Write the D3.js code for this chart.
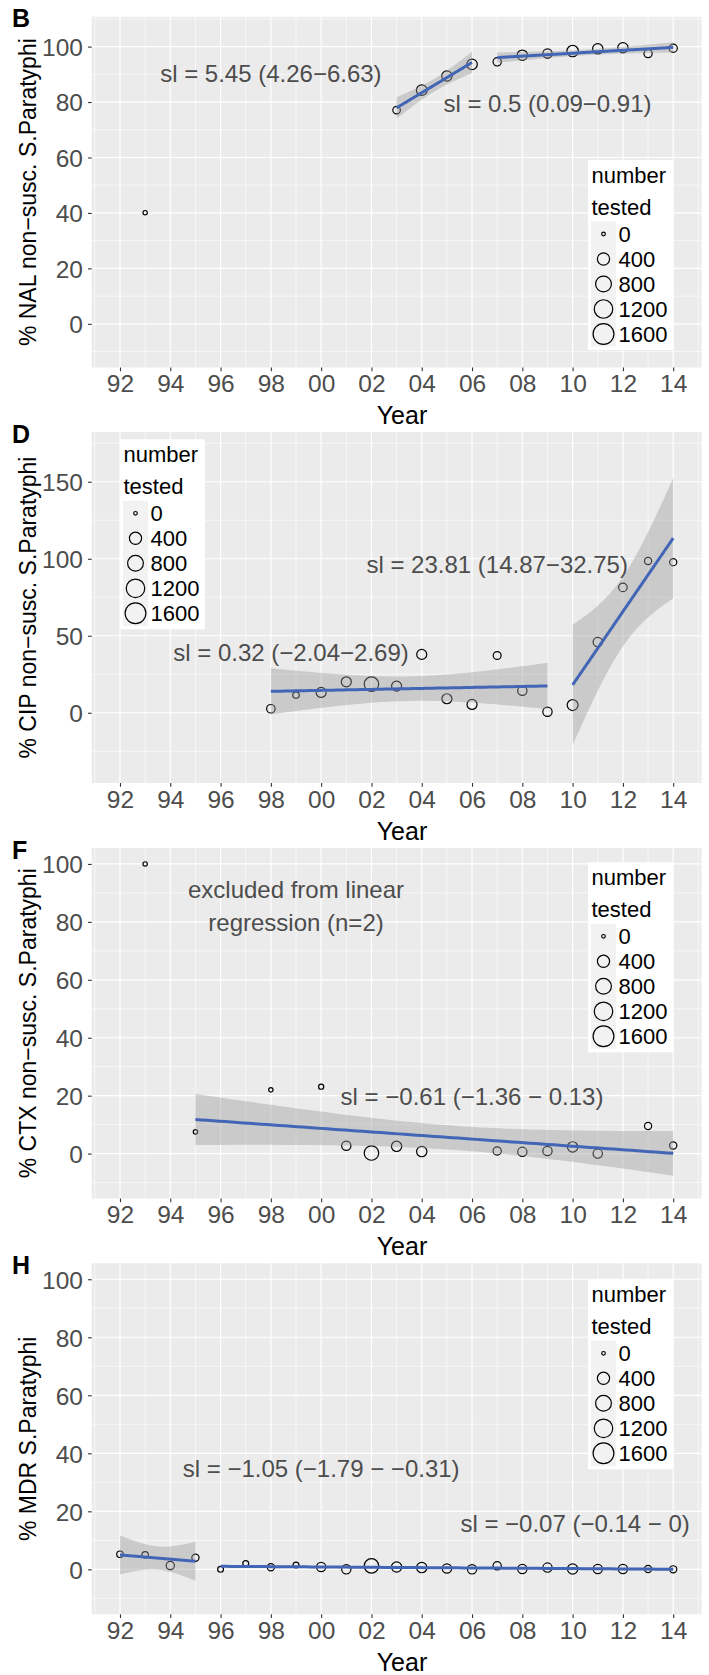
<!DOCTYPE html>
<html><head><meta charset="utf-8">
<script src="https://cdn.jsdelivr.net/npm/d3@7"></script>
<style>
body{margin:0;background:#fff}
svg{display:block}
text{font-family:"Liberation Sans",Arial,Helvetica,sans-serif}
</style>
</head><body>
<svg id="chart" width="709" height="1675"></svg>
<script>
// ---------- data ----------
const xTickYears = [1992,1994,1996,1998,2000,2002,2004,2006,2008,2010,2012,2014];
const xTickLabels = ["92","94","96","98","00","02","04","06","08","10","12","14"];
const pctTicks = [0,20,40,60,80,100];
const cipTicks = [0,50,100,150];
const legendBreaks = [0,400,800,1200,1600];

const nalYears = [1993,2003,2004,2005,2006,2007,2008,2009,2010,2011,2012,2013,2014];
const nalPct   = [40.1,77.1,84.3,89.4,93.6,94.5,96.9,97.5,98.4,99.2,99.6,97.5,99.4];
const nalN     = [3,84,268,245,260,118,245,176,327,245,245,118,118];
const nalSegs  = [[2003,2006],[2007,2014]];

const cipYears = [1998,1999,2000,2001,2002,2003,2004,2005,2006,2007,2008,2009,2010,2011,2012,2013,2014];
const cipPct   = [2.6,11.5,13.2,20.1,18.6,17.3,37.9,9.1,5.4,37.2,14.3,0.7,5.0,45.9,81.4,98.5,97.8];
const cipN     = [130,46,223,223,640,223,223,223,223,100,176,176,290,176,130,71,71];
const cipSegs  = [[1998,2009],[2010,2014]];

const ctxYears = [1993,1995,1998,2000,2001,2002,2003,2004,2007,2008,2009,2010,2011,2013,2014];
const ctxPct   = [100,7.5,22,23.1,2.7,0.2,2.5,0.7,0.9,0.6,0.9,2.3,0,9.5,2.8];
const ctxN     = [3,3,3,13,176,640,245,245,118,176,176,245,176,71,71];
const ctxSegs  = [[1995,2014]];

const mdrYears = [1992,1993,1994,1995,1996,1997,1998,1999,2000,2001,2002,2003,2004,2005,2006,2007,2008,2009,2010,2011,2012,2013,2014];
const mdrPct   = [5.2,5.0,1.3,4.0,0,2.0,0.7,1.5,0.8,0,1.2,0.8,0.6,0.3,0,1.2,0.1,0.6,0.1,0.1,0.1,0.1,0];
const mdrN     = [46,46,118,71,28,28,71,28,176,176,640,245,245,176,176,118,176,176,245,176,176,71,71];
const mdrSegs  = [[1992,1995],[1996,2014]];

const nalNotes = [{x:1998,y:90.5,t:"sl = 5.45 (4.26\u22126.63)"},{x:2009,y:79.7,t:"sl = 0.5 (0.09\u22120.91)"}];
const cipNotes = [{x:1998.8,y:39.5,t:"sl = 0.32 (\u22122.04\u22122.69)"},{x:2007,y:96.1,t:"sl = 23.81 (14.87\u221232.75)"}];
const ctxNotes = [{x:1999,y:91.1,t:"excluded from linear"},{x:1999,y:79.8,t:"regression (n=2)"},{x:2006,y:19.7,t:"sl = \u22120.61 (\u22121.36 \u2212 0.13)"}];
const mdrNotes = [{x:2000,y:34.9,t:"sl = \u22121.05 (\u22121.79 \u2212 \u22120.31)"},{x:2010.1,y:16,t:"sl = \u22120.07 (\u22120.14 \u2212 0)"}];

// t quantiles (0.975) by df
const t975 = {1:12.706,2:4.303,3:3.182,4:2.776,5:2.571,6:2.447,7:2.365,8:2.306,9:2.262,10:2.228,11:2.201,12:2.179,13:2.160,14:2.145,15:2.131,16:2.120,17:2.110,18:2.101,19:2.093,20:2.086,21:2.080};

// ---------- layout ----------
const svg = d3.select("#chart");
const PL = 91.7, PR = 701.5;
const x = d3.scaleLinear().domain([1990.875, 2015.125]).range([PL, PR]);
const r = d3.scaleSqrt().domain([0,1600]).range([1.8,10.4]);
const FONT_TICK = 24.5, FONT_NOTE = 24;

const panels = [
  {label:"B", title:"% NAL non\u2212susc. S.Paratyphi", top:16.8, bottom:367.5, dom:[-15.75,110.75], ticks:pctTicks, step:20,
   years:nalYears, pct:nalPct, n:nalN, segs:nalSegs, notes:nalNotes, leg:[588,160]},
  {label:"D", title:"% CIP non\u2212susc. S.Paratyphi", top:432, bottom:783, dom:[-45.6,182.3], ticks:cipTicks, step:50,
   years:cipYears, pct:cipPct, n:cipN, segs:cipSegs, notes:cipNotes, leg:[120,439.3]},
  {label:"F", title:"% CTX non\u2212susc. S.Paratyphi", top:848, bottom:1198.5, dom:[-15.5,105.5], ticks:pctTicks, step:20,
   years:ctxYears, pct:ctxPct, n:ctxN, segs:ctxSegs, notes:ctxNotes, leg:[588,862.3]},
  {label:"H", title:"% MDR S.Paratyphi", top:1263.3, bottom:1614.3, dom:[-15.5,105.5], ticks:pctTicks, step:20,
   years:mdrYears, pct:mdrPct, n:mdrN, segs:mdrSegs, notes:mdrNotes, leg:[588,1279.3]}
];

function ols(xs, ys){
  const n = xs.length, xb = d3.mean(xs), yb = d3.mean(ys);
  let sxx=0, sxy=0;
  xs.forEach((v,i)=>{ sxx += (v-xb)*(v-xb); sxy += (v-xb)*(ys[i]-yb); });
  const b = sxy/sxx, a = yb - b*xb;
  let sse = 0; xs.forEach((v,i)=>{ const e = ys[i]-(a+b*v); sse += e*e; });
  const s = Math.sqrt(sse/(n-2));
  const t = t975[n-2] || 2.0;
  return {a,b,xb,sxx,n,s,t, se:(v)=> s*Math.sqrt(1/n + (v-xb)*(v-xb)/sxx)};
}

panels.forEach(p=>{
  const y = d3.scaleLinear().domain(p.dom).range([p.bottom, p.top]);
  const g = svg.append("g");
  // background
  g.append("rect").attr("x",PL).attr("y",p.top).attr("width",PR-PL).attr("height",p.bottom-p.top).attr("fill","#EBEBEB");
  // minor gridlines
  const xMinor = d3.range(1991, 2016, 2).filter(v=> x(v)>=PL && x(v)<=PR);
  const yMinor = d3.range(p.ticks[0]-p.step/2, p.dom[1], p.step).filter(v=> v>=p.dom[0] && v<=p.dom[1]);
  g.selectAll(null).data(xMinor).enter().append("line")
    .attr("x1",d=>x(d)).attr("x2",d=>x(d)).attr("y1",p.top).attr("y2",p.bottom)
    .attr("stroke","#fff").attr("stroke-width",0.6);
  g.selectAll(null).data(yMinor).enter().append("line")
    .attr("x1",PL).attr("x2",PR).attr("y1",d=>y(d)).attr("y2",d=>y(d))
    .attr("stroke","#fff").attr("stroke-width",0.6);
  // major gridlines
  g.selectAll(null).data(xTickYears).enter().append("line")
    .attr("x1",d=>x(d)).attr("x2",d=>x(d)).attr("y1",p.top).attr("y2",p.bottom)
    .attr("stroke","#fff").attr("stroke-width",1.2);
  g.selectAll(null).data(p.ticks).enter().append("line")
    .attr("x1",PL).attr("x2",PR).attr("y1",d=>y(d)).attr("y2",d=>y(d))
    .attr("stroke","#fff").attr("stroke-width",1.2);

  // axes
  const xAxis = d3.axisBottom(x).tickValues(xTickYears).tickFormat((d,i)=>xTickLabels[i]).tickSize(3.7).tickPadding(4);
  const ax = g.append("g").attr("transform",`translate(0,${p.bottom})`).call(xAxis);
  ax.select(".domain").remove();
  ax.selectAll(".tick line").attr("stroke","#333").attr("stroke-width",1.1);
  ax.selectAll(".tick text").attr("fill","#4D4D4D").attr("font-size",FONT_TICK).attr("dy","0.71em")
    .attr("font-family","Liberation Sans, Arial, sans-serif").attr("y",7.5);
  const yAxis = d3.axisLeft(y).tickValues(p.ticks).tickSize(3.7).tickPadding(5);
  const ay = g.append("g").attr("transform",`translate(${PL},0)`).call(yAxis);
  ay.select(".domain").remove();
  ay.selectAll(".tick line").attr("stroke","#333").attr("stroke-width",1.1);
  ay.selectAll(".tick text").attr("fill","#4D4D4D").attr("font-size",FONT_TICK).attr("dy","0.36em")
    .attr("font-family","Liberation Sans, Arial, sans-serif");

  // axis titles
  g.append("text").attr("x",402).attr("y",p.bottom+56.5).attr("text-anchor","middle")
    .attr("font-size",25).attr("fill","#000").text("Year");
  g.append("text").attr("transform",`translate(35.5,${(p.top+p.bottom)/2}) rotate(-90)`)
    .attr("text-anchor","middle").attr("font-size",23).attr("fill","#000").text(p.title);
  // panel label
  g.append("text").attr("x",12).attr("y",p.top+10.5).attr("font-size",25).attr("font-weight","bold")
    .attr("fill","#000").text(p.label);

  // points
  const pts = p.years.map((yr,i)=>({yr, v:p.pct[i], n:p.n[i]}));
  g.selectAll(null).data(pts).enter().append("circle")
    .attr("cx",d=>x(d.yr)).attr("cy",d=>y(d.v)).attr("r",d=>r(d.n))
    .attr("fill","none").attr("stroke","#000").attr("stroke-width",1.2);

  // regression fits
  p.segs.forEach(([s0,s1])=>{
    const sub = pts.filter(d=>d.yr>=s0 && d.yr<=s1);
    const f = ols(sub.map(d=>d.yr), sub.map(d=>d.v));
    const xs = d3.range(0,81).map(k=> s0 + (s1-s0)*k/80);
    const band = xs.map(v=>({v, fit:f.a+f.b*v, h:f.t*f.se(v)}));
    g.append("path").datum(band)
      .attr("d", d3.area().x(d=>x(d.v)).y0(d=>y(d.fit-d.h)).y1(d=>y(d.fit+d.h)))
      .attr("fill","#999999").attr("fill-opacity",0.4);
    g.append("path").datum(band)
      .attr("d", d3.line().x(d=>x(d.v)).y(d=>y(d.fit)))
      .attr("fill","none").attr("stroke","#4266B5").attr("stroke-width",3);
  });

  // annotations
  g.selectAll(null).data(p.notes).enter().append("text")
    .attr("x",d=>x(d.x)).attr("y",d=>y(d.y)).attr("dy","0.36em").attr("text-anchor","middle")
    .attr("font-size",FONT_NOTE).attr("fill","#4D4D4D").text(d=>d.t);

  // legend
  const [lx,ly] = p.leg;
  const lg = g.append("g").attr("transform",`translate(${lx},${ly})`);
  lg.append("rect").attr("width",85).attr("height",190).attr("fill","#fff");
  lg.append("text").attr("x",3.5).attr("y",23).attr("font-size",22).attr("fill","#000").text("number");
  lg.append("text").attr("x",3.5).attr("y",55).attr("font-size",22).attr("fill","#000").text("tested");
  const keyY = d3.scaleBand().domain(legendBreaks).range([61.5,186.5]);
  lg.selectAll(null).data(legendBreaks).enter().append("rect")
    .attr("x",3).attr("y",d=>keyY(d)).attr("width",25).attr("height",keyY.bandwidth()).attr("fill","#F2F2F2");
  lg.selectAll(null).data(legendBreaks).enter().append("circle")
    .attr("cx",15.5).attr("cy",d=>keyY(d)+keyY.bandwidth()/2).attr("r",d=>r(d))
    .attr("fill","none").attr("stroke","#000").attr("stroke-width",1.2);
  lg.selectAll(null).data(legendBreaks).enter().append("text")
    .attr("x",30.5).attr("y",d=>keyY(d)+keyY.bandwidth()/2).attr("dy","0.36em")
    .attr("font-size",22).attr("fill","#000").text(d=>d);
});
</script>
</body></html>
